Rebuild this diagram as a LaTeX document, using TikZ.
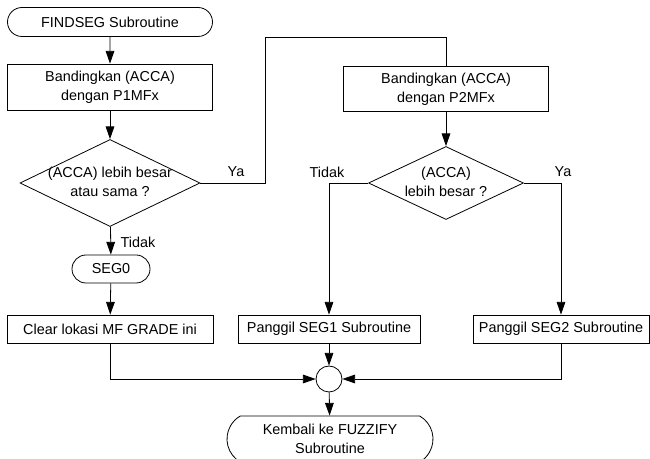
\documentclass[tikz,border=0pt]{standalone}
\usepackage{fontspec}
\setmainfont{Liberation Sans}
\usetikzlibrary{shapes.geometric,shapes.misc,arrows.meta}
\newcommand{\dtext}[2]{\makebox[0pt]{\begin{tabular}{@{}c@{}}#1\\#2\end{tabular}}}
\begin{document}
\begin{tikzpicture}[x=0.75pt,y=-0.75pt,
    line width=0.6pt,
    font=\fontsize{10.8pt}{14.5pt}\selectfont,
    every node/.style={inner sep=0pt},
    proses/.style={draw,rectangle,minimum width=153.75pt,align=center},
    terminal/.style={draw,rounded rectangle,align=center},
    keputusan/.style={draw,diamond,inner sep=0pt},
    panah/.style={-{Triangle[length=9.5pt,width=6.5pt]}}]
    \useasboundingbox (0,0) rectangle (650,459);
    % kolom kiri
    \node[terminal, minimum width=153.75pt, minimum height=21.75pt] (start) at (110,22) {FINDSEG Subroutine};
    \node[proses, minimum height=34.5pt] (cmp1) at (110,87) {Bandingkan (ACCA)\\dengan P1MFx};
    \node[keputusan, minimum width=135pt, minimum height=65.25pt] (dec1) at (110,183) {\dtext{(ACCA) lebih besar}{atau sama ?}};
    \node[terminal, minimum width=58.5pt, minimum height=21pt] (seg0) at (111,269) {SEG0};
    \node[proses, minimum width=154.5pt, minimum height=21pt] (clr) at (110,329) {Clear lokasi MF GRADE ini};
    % kolom kanan
    \node[proses, minimum height=33.75pt] (cmp2) at (446,89) {Bandingkan (ACCA)\\dengan P2MFx};
    \node[keputusan, minimum width=116.25pt, minimum height=54.75pt] (dec2) at (446,183) {\dtext{(ACCA)}{lebih besar ?}};
    \node[proses, minimum width=136.5pt, minimum height=21pt] (seg1) at (329,329) {Panggil SEG1 Subroutine};
    \node[proses, minimum width=132pt, minimum height=21pt] (seg2) at (561,329) {Panggil SEG2 Subroutine};
    % akhir
    \node[draw,circle,minimum size=19.5pt] (join) at (329,379) {};
    \node[terminal, rounded rectangle arc length=120, minimum width=154.5pt, minimum height=34.5pt] (ret) at (330,439) {Kembali ke FUZZIFY\\Subroutine};
    \coordinate (ya1) at (265,37);
    % garis
    \draw[panah] (start) -- (cmp1);
    \draw[panah] (cmp1) -- (dec1);
    \draw (dec1.east) -| (ya1) -| (cmp2.north);
    \node at (236,172) {Ya};
    \draw[panah] (dec1) -- (seg0);
    \node at (138,242) {Tidak};
    \draw[panah] (seg0) -- (clr);
    \draw[panah] (cmp2) -- (dec2);
    \draw[panah] (dec2.west) -| (seg1.north);
    \node at (327,172) {Tidak};
    \draw[panah] (dec2.east) -| (seg2.north);
    \node at (563,172) {Ya};
    \draw[panah] (clr.south) |- (join.west);
    \draw[panah] (seg1) -- (join);
    \draw[panah] (seg2.south) |- (join.east);
    \draw[panah] (join) -- (ret);
\end{tikzpicture}
\end{document}
